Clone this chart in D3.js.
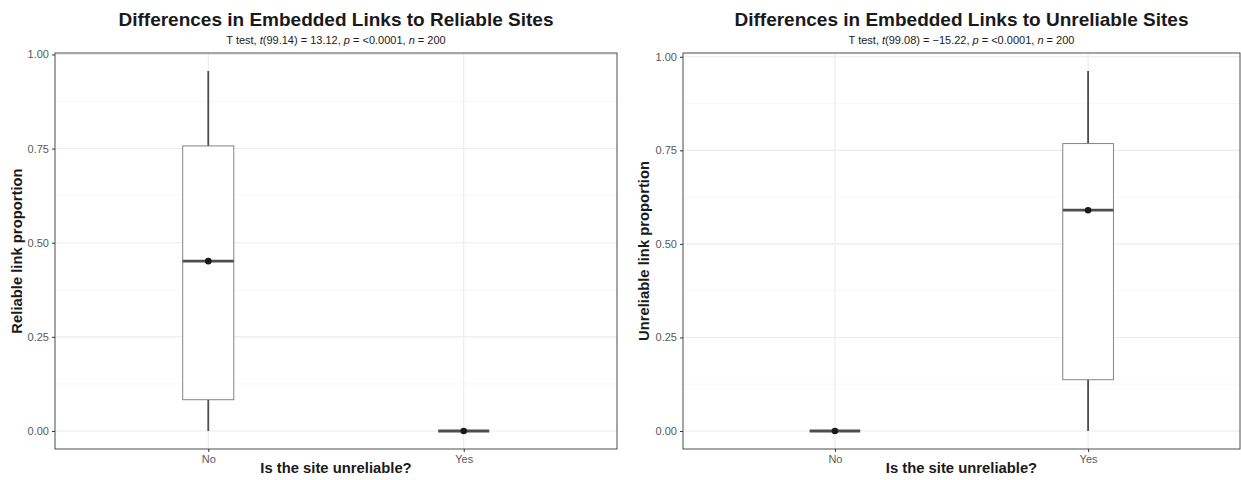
<!DOCTYPE html>
<html>
<head>
<meta charset="utf-8">
<script src="https://cdn.jsdelivr.net/npm/d3@7"></script>
<style>
  body { margin: 0; background: #fff; }
  svg { font-family: "Liberation Sans", Arial, sans-serif; }
</style>
</head>
<body>
<svg id="chart" width="1241" height="480"></svg>
<script>
// categories and summary stats
var categories = ['No', 'Yes'];
var reliableStats = [
    {lo: 0, q1: 0.083, med: 0.451, q3: 0.757, hi: 0.956, mean: 0.451},
    {lo: 0, q1: 0, med: 0, q3: 0, hi: 0, mean: 0}
];
var unreliableStats = [
    {lo: 0, q1: 0, med: 0, q3: 0, hi: 0, mean: 0},
    {lo: 0, q1: 0.137, med: 0.59, q3: 0.768, hi: 0.962, mean: 0.59}
];
var yTicks = [0, 0.25, 0.5, 0.75, 1];
var yMinor = [0.125, 0.375, 0.625, 0.875];

var panels = [
    {
        title: 'Differences in Embedded Links to Reliable Sites',
        sub: [['T test, ', 0], ['t', 1], ['(99.14) = 13.12, ', 0], ['p', 1], [' = <0.0001, ', 0], ['n', 1], [' = 200', 0]],
        ylab: 'Reliable link proportion',
        stats: reliableStats,
        left: 55, right: 617, ylabX: 22
    },
    {
        title: 'Differences in Embedded Links to Unreliable Sites',
        sub: [['T test, ', 0], ['t', 1], ['(99.08) = \u221215.22, ', 0], ['p', 1], [' = <0.0001, ', 0], ['n', 1], [' = 200', 0]],
        ylab: 'Unreliable link proportion',
        stats: unreliableStats,
        left: 683, right: 1240, ylabX: 649
    }
];

var svg = d3.select('#chart');
var plotTop = 53, plotBottom = 449;

panels.forEach(function(p) {
    var g = svg.append('g');
    var ymax = d3.max(p.stats, function(d) { return d.hi; });
    var pad = ymax * 0.05;
    var y = d3.scaleLinear().domain([-pad, ymax + pad]).range([plotBottom, plotTop]);
    // discrete axis: 0.6 expansion on both sides
    var x = d3.scaleLinear().domain([0.4, 2.6]).range([p.left, p.right]);
    var xc = function(i) { return x(i + 1); };
    var bw = x(1.2) - x(1);

    // grid
    g.selectAll('.minor').data(yMinor).enter().append('line')
        .attr('x1', p.left).attr('x2', p.right)
        .attr('y1', function(d) { return y(d); }).attr('y2', function(d) { return y(d); })
        .attr('stroke', '#f2f2f2').attr('stroke-width', 0.6);
    g.selectAll('.major').data(yTicks.filter(function(d) { return y(d) >= plotTop - 1; })).enter().append('line')
        .attr('x1', p.left).attr('x2', p.right)
        .attr('y1', function(d) { return y(d); }).attr('y2', function(d) { return y(d); })
        .attr('stroke', '#ebebeb').attr('stroke-width', 1.1);
    g.selectAll('.vgrid').data(categories).enter().append('line')
        .attr('x1', function(d, i) { return xc(i); }).attr('x2', function(d, i) { return xc(i); })
        .attr('y1', plotTop).attr('y2', plotBottom)
        .attr('stroke', '#ebebeb').attr('stroke-width', 1.1);

    // boxes
    var box = g.selectAll('.box').data(p.stats).enter().append('g');
    box.append('line')
        .attr('x1', function(d, i) { return xc(i); }).attr('x2', function(d, i) { return xc(i); })
        .attr('y1', function(d) { return y(d.hi); }).attr('y2', function(d) { return y(d.q3); })
        .attr('stroke', '#4d4d4d').attr('stroke-width', 1.8);
    box.append('line')
        .attr('x1', function(d, i) { return xc(i); }).attr('x2', function(d, i) { return xc(i); })
        .attr('y1', function(d) { return y(d.q1); }).attr('y2', function(d) { return y(d.lo); })
        .attr('stroke', '#4d4d4d').attr('stroke-width', 1.8);
    box.append('rect')
        .attr('x', function(d, i) { return xc(i) - bw / 2; })
        .attr('width', bw)
        .attr('y', function(d) { return y(d.q3); })
        .attr('height', function(d) { return y(d.q1) - y(d.q3); })
        .attr('fill', '#fff').attr('stroke', '#777').attr('stroke-width', 0.9);
    box.append('line')
        .attr('x1', function(d, i) { return xc(i) - bw / 2; }).attr('x2', function(d, i) { return xc(i) + bw / 2; })
        .attr('y1', function(d) { return y(d.med); }).attr('y2', function(d) { return y(d.med); })
        .attr('stroke', '#4d4d4d').attr('stroke-width', 2.8);
    box.append('circle')
        .attr('cx', function(d, i) { return xc(i); })
        .attr('cy', function(d) { return y(d.mean); })
        .attr('r', 3.3).attr('fill', '#1a1a1a');

    // border
    g.append('rect').attr('x', p.left).attr('y', plotTop)
        .attr('width', p.right - p.left).attr('height', plotBottom - plotTop)
        .attr('fill', 'none').attr('stroke', '#4d4d4d').attr('stroke-width', 1);

    // axes
    var ya = g.append('g').attr('transform', 'translate(' + p.left + ',0)')
        .call(d3.axisLeft(y).tickValues(yTicks).tickFormat(d3.format('.2f')).tickSize(3).tickPadding(3));
    ya.select('.domain').remove();
    ya.selectAll('line').attr('stroke', '#333');
    ya.selectAll('text').attr('fill', '#595959').style('font-size', '11px');

    var xa = g.append('g').attr('transform', 'translate(0,' + plotBottom + ')')
        .call(d3.axisBottom(x).tickValues([1, 2]).tickFormat(function(d) { return categories[d - 1]; }).tickSize(3).tickPadding(3));
    xa.select('.domain').remove();
    xa.selectAll('line').attr('stroke', '#333');
    xa.selectAll('text').attr('fill', '#595959').style('font-size', '11px');

    var cx = (p.left + p.right) / 2;
    g.append('text').attr('x', cx).attr('y', 26).attr('text-anchor', 'middle')
        .style('font-size', '19px').style('font-weight', 'bold').attr('fill', '#1a1a1a')
        .text(p.title);
    var st = g.append('text').attr('x', cx).attr('y', 44).attr('text-anchor', 'middle')
        .style('font-size', '11px').attr('fill', '#1a1a1a');
    p.sub.forEach(function(s) {
        st.append('tspan').style('font-style', s[1] ? 'italic' : 'normal').text(s[0]);
    });
    g.append('text').attr('x', cx).attr('y', 473).attr('text-anchor', 'middle')
        .style('font-size', '14.8px').style('font-weight', 'bold').attr('fill', '#1a1a1a')
        .text('Is the site unreliable?');
    g.append('text').attr('transform', 'translate(' + p.ylabX + ',' + ((plotTop + plotBottom) / 2) + ') rotate(-90)')
        .attr('text-anchor', 'middle')
        .style('font-size', '14.8px').style('font-weight', 'bold').attr('fill', '#1a1a1a')
        .text(p.ylab);
});
</script>
</body>
</html>
